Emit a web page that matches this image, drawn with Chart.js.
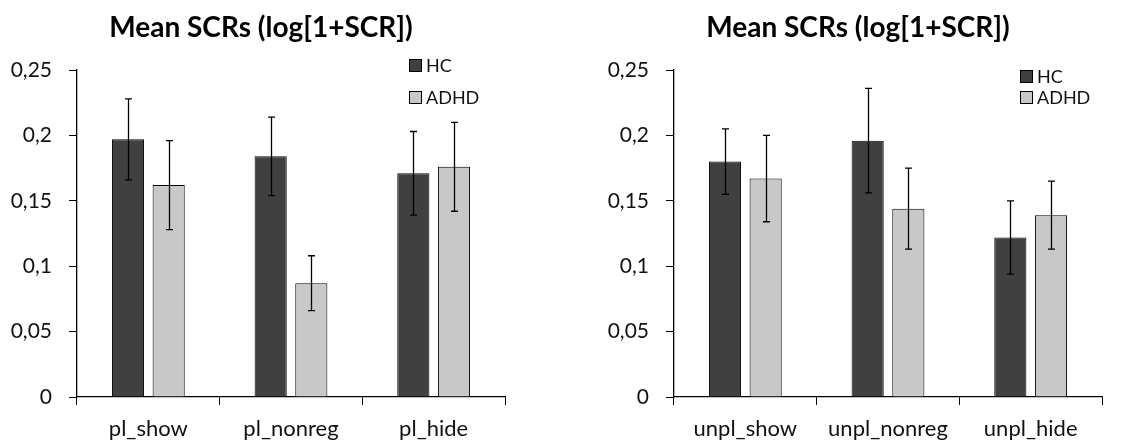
<!DOCTYPE html>
<html>
<head>
<meta charset="utf-8">
<script src="https://cdn.jsdelivr.net/npm/chart.js@4.4.0/dist/chart.umd.min.js"></script>
<style>
  html, body { margin: 0; padding: 0; background: #fff; }
  .row { display: flex; width: 1144px; height: 440px; }
  canvas { display: block; }
</style>
</head>
<body>
<div class="row">
  <canvas id="plChart" width="572" height="440"></canvas>
  <canvas id="unplChart" width="572" height="440"></canvas>
</div>
<script>
const titleText = "Mean SCRs (log[1+SCR])"
const groupNames = ["HC", "ADHD"]

const plLabels = ["pl_show", "pl_nonreg", "pl_hide"]
const plHC = [0.197, 0.184, 0.171]
const plADHD = [0.162, 0.087, 0.176]
const plErrHC = [0.031, 0.030, 0.032]
const plErrADHD = [0.034, 0.021, 0.034]

const unplLabels = ["unpl_show", "unpl_nonreg", "unpl_hide"]
const unplHC = [0.180, 0.196, 0.122]
const unplADHD = [0.167, 0.144, 0.139]
const unplErrHC = [0.025, 0.040, 0.028]
const unplErrADHD = [0.033, 0.031, 0.026]

const yTicks = [0, 0.05, 0.1, 0.15, 0.2, 0.25]

const FONT = "Lato, Carlito, 'Open Sans', sans-serif"

// whisker lines for +/- error on top of each bar
const errorBars = {
  id: "errorBars",
  afterDatasetsDraw(chart) {
    const ctx = chart.ctx
    const yScale = chart.scales.y
    ctx.save()
    ctx.strokeStyle = "#000"
    ctx.lineWidth = 1.3
    chart.data.datasets.forEach((ds, i) => {
      const meta = chart.getDatasetMeta(i)
      meta.data.forEach((bar, j) => {
        const v = ds.data[j]
        const e = ds.errors[j]
        const top = yScale.getPixelForValue(v + e)
        const bot = yScale.getPixelForValue(v - e)
        const x = Math.round(bar.x) + 0.5
        ctx.beginPath()
        ctx.moveTo(x, top)
        ctx.lineTo(x, bot)
        ctx.moveTo(x - 3.5, top)
        ctx.lineTo(x + 3.5, top)
        ctx.moveTo(x - 3.5, bot)
        ctx.lineTo(x + 3.5, bot)
        ctx.stroke()
      })
    })
    ctx.restore()
  },
}

// small legend sitting inside the plot, top right
const boxLegend = {
  id: "boxLegend",
  afterDraw(chart, args, opts) {
    const ctx = chart.ctx
    ctx.save()
    ctx.font = "18px " + FONT
    ctx.textBaseline = "middle"
    chart.data.datasets.forEach((ds, i) => {
      const cy = opts.ys[i]
      ctx.fillStyle = ds.backgroundColor
      ctx.fillRect(opts.x, cy - 6, 13, 13)
      ctx.strokeStyle = "#000"
      ctx.lineWidth = 1
      ctx.strokeRect(opts.x + 0.5, cy - 5.5, 12, 12)
      ctx.fillStyle = "#111"
      ctx.fillText(ds.label, opts.x + 17, cy + 1)
    })
    ctx.restore()
  },
}

// chart heading, centred a little left of the plot area like the office layout
const headTitle = {
  id: "headTitle",
  afterDraw(chart, args, opts) {
    const ctx = chart.ctx
    const area = chart.chartArea
    ctx.save()
    ctx.font = "bold 28px " + FONT
    ctx.fillStyle = "#000"
    ctx.textAlign = "center"
    ctx.textBaseline = "middle"
    ctx.fillText(opts.text, (area.left + area.right) / 2 + opts.shift, opts.y)
    ctx.restore()
  },
}

function makeChart(id, labels, hc, adhd, errHC, errADHD, rightPad, legendPos) {
  const ctx = document.getElementById(id).getContext("2d")
  return new Chart(ctx, {
    type: "bar",
    data: {
      labels: labels,
      datasets: [
        {
          label: groupNames[0],
          data: hc,
          errors: errHC,
          backgroundColor: "#404040",
          borderColor: "#000",
          borderWidth: 1,
        },
        {
          label: groupNames[1],
          data: adhd,
          errors: errADHD,
          backgroundColor: "#c8c8c8",
          borderColor: "#000",
          borderWidth: 1,
        },
      ],
    },
    plugins: [errorBars, boxLegend, headTitle],
    options: {
      responsive: false,
      animation: false,
      layout: { padding: { left: 0, right: rightPad, top: 70, bottom: 0 } },
      datasets: {
        bar: { categoryPercentage: 0.57, barPercentage: 0.79 },
      },
      plugins: {
        legend: { display: false },
        tooltip: { enabled: false },
        title: { display: false },
        boxLegend: legendPos,
        headTitle: { text: titleText, y: 28, shift: -30 },
      },
      scales: {
        x: {
          grid: {
            display: true,
            offset: true,
            drawOnChartArea: false,
            drawTicks: true,
            tickLength: 8,
            color: "#000",
          },
          border: { color: "#000", width: 1.3 },
          ticks: {
            color: "#111",
            padding: 11,
            font: { family: FONT, size: 22 },
          },
          afterFit(scale) {
            scale.height = 43
          },
        },
        y: {
          min: 0,
          max: 0.25,
          afterBuildTicks(scale) {
            scale.ticks = yTicks.map((v) => ({ value: v }))
          },
          grid: {
            display: true,
            drawOnChartArea: false,
            drawTicks: true,
            tickLength: 8,
            color: "#000",
          },
          border: { color: "#000", width: 1.3 },
          ticks: {
            color: "#111",
            padding: 17,
            font: { family: FONT, size: 21 },
            callback: (v) => String(+Number(v).toFixed(2)).replace(".", ","),
          },
          afterFit(scale) {
            scale.width = scale.chart.canvas.id === "plChart" ? 77 : 102
          },
        },
      },
    },
  })
}

makeChart("plChart", plLabels, plHC, plADHD, plErrHC, plErrADHD, 67, { x: 409, ys: [65, 97] })
makeChart("unplChart", unplLabels, unplHC, unplADHD, unplErrHC, unplErrADHD, 42, { x: 448, ys: [76, 97] })
</script>
</body>
</html>
